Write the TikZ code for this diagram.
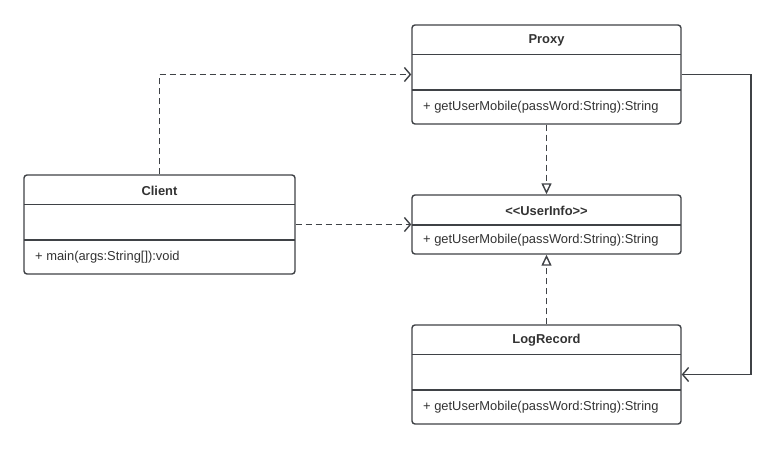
\documentclass[tikz,border=0pt]{standalone}
\usepackage{fontspec}
\setmainfont{Liberation Sans}
\usetikzlibrary{arrows.meta}
\definecolor{ln}{HTML}{3F4246}
\definecolor{tx}{HTML}{333333}
\begin{document}
\begin{tikzpicture}[x=1pt,y=-1pt,
  cls/.style={draw=ln,line width=1.4pt,rounded corners=3pt,fill=white,inner sep=0pt},
  sep/.style={draw=ln,line width=1.4pt},
  ttl/.style={font=\bfseries\fontsize{12.9}{14}\selectfont,text=tx,inner sep=0pt},
  meth/.style={font=\fontsize{12.9}{14}\selectfont,text=tx,inner sep=0pt,anchor=west},
  dep/.style={draw=ln,line width=1.4pt,dash pattern=on 6pt off 4pt,-{Straight Barb[length=6pt,width=14pt,line width=1.4pt]}},
  real/.style={draw=ln,line width=1.4pt,dash pattern=on 6pt off 4pt,-{Triangle[open,length=11pt,width=10pt,line width=1.4pt]}},
  assoc/.style={draw=ln,line width=1.4pt,-{Straight Barb[length=6pt,width=14pt,line width=1.4pt]}}]
\useasboundingbox (0,0) rectangle (776,450);
\fill[white] (0,0) rectangle (776,450);
% classes
\node[cls,minimum width=269pt,minimum height=99pt] (proxy) at (546.5,74.5) {};
\node[cls,minimum width=271pt,minimum height=99pt] (client) at (159.5,224.5) {};
\node[cls,minimum width=269pt,minimum height=59pt] (ui) at (546.5,224.5) {};
\node[cls,minimum width=269pt,minimum height=99pt] (log) at (546.5,374.5) {};
% separators
\draw[sep] (412,54.5) -- (681,54.5) (412,90) -- (681,90);
\draw[sep] (24,204.5) -- (295,204.5) (24,240) -- (295,240);
\draw[sep] (412,225) -- (681,225);
\draw[sep] (412,354.5) -- (681,354.5) (412,390) -- (681,390);
% texts
\node[ttl] (tp) at (546.5,40.5) {Proxy};
\node[meth] (mp) at (423,107.5) {+ getUserMobile(passWord:String):String};
\node[ttl] (tc) at (159.5,190.5) {Client};
\node[meth] (mc) at (35,257.5) {+ main(args:String[]):void};
\node[ttl] (tu) at (546.5,210.5) {<{}<UserInfo>{}>};
\node[meth] (mu) at (423,240.5) {+ getUserMobile(passWord:String):String};
\node[ttl] (tl) at (546.5,340.5) {LogRecord};
\node[meth] (ml) at (423,407.5) {+ getUserMobile(passWord:String):String};
% connectors
\coordinate (c1) at (159.5,74.5);
\draw[dep] (client.north) -- (c1) -- (proxy.west);
\draw[dep] (client.east) -- (ui.west);
\draw[real] (proxy.south) -- (ui.north);
\draw[real] (log.north) -- (ui.south);
\coordinate (r1) at (751,74.5);
\coordinate (r2) at (751,374.5);
\draw[assoc] (proxy.east) -- (r1) -- (r2) -- (log.east);
\end{tikzpicture}
\end{document}
